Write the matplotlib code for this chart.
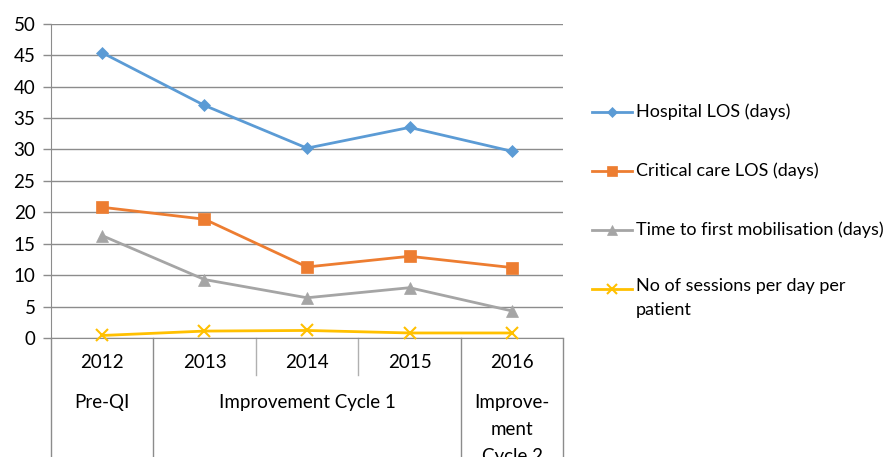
import matplotlib
matplotlib.use("Agg")
import matplotlib.pyplot as plt
import matplotlib.transforms as mtransforms
from matplotlib.lines import Line2D

# Data
years = ["2012", "2013", "2014", "2015", "2016"]
hospital_los = [45.4, 37.0, 30.2, 33.5, 29.7]
critical_los = [20.8, 18.9, 11.3, 13.0, 11.2]
first_mob = [16.3, 9.3, 6.4, 8.0, 4.3]
sessions = [0.4, 1.1, 1.2, 0.8, 0.8]

groups = ["Pre-QI", "Improvement Cycle 1", "Improve-\nment\nCycle 2"]
group_spans = [(0, 0), (1, 3), (4, 4)]

series_names = ["Hospital LOS (days)", "Critical care LOS (days)",
                "Time to first mobilisation (days)", "No of sessions per day per\npatient"]
colors = ["#5B9BD5", "#ED7D31", "#A5A5A5", "#FFC000"]
markers = ["D", "s", "^", "x"]
msizes = [6, 8, 8, 8]

plt.rcParams["font.family"] = ["Lato", "DejaVu Sans"]
plt.rcParams["font.size"] = 13

W, H = 887, 457
fig = plt.figure(figsize=(W / 100, H / 100), dpi=100)

# axes box in pixels
x0, x1 = 50.7, 563.3
y_top, y_bot = 23.7, 338.0
ax = fig.add_axes([x0 / W, (H - y_bot) / H, (x1 - x0) / W, (y_bot - y_top) / H])

grid_col = "#8C8C8C"
xs = list(range(len(years)))
all_series = [hospital_los, critical_los, first_mob, sessions]
for vals, c, m, ms in zip(all_series, colors, markers, msizes):
    ax.plot(xs, vals, color=c, lw=2.0, marker=m, markersize=ms,
            markeredgewidth=1.5 if m == "x" else 0.5, markeredgecolor=c, zorder=3,
            clip_on=False)

ax.set_xlim(-0.5, len(years) - 0.5)
ax.set_ylim(0, 50)
ax.set_yticks(range(0, 51, 5))
ax.yaxis.grid(True, color=grid_col, lw=1)
ax.set_axisbelow(True)
ax.set_xticks([])
for s in ["top", "right"]:
    ax.spines[s].set_visible(False)
ax.spines["left"].set_color(grid_col)
ax.spines["bottom"].set_color(grid_col)
ax.tick_params(axis="y", length=6, width=1, color=grid_col, pad=5, labelsize=13.5)

# multi-level category axis
axh = y_bot - y_top
trans = mtransforms.blended_transform_factory(ax.transData, ax.transAxes)
short = -(375 - y_bot) / axh
full = -(H - y_bot) / axh

for i, y in enumerate(years):
    ax.annotate(y, xy=(i, 0), xycoords=trans, xytext=(0, -25), textcoords="offset pixels",
                ha="center", va="center", fontsize=13.5)

bounds = set()
for a, b in group_spans:
    bounds.add(a - 0.5)
    bounds.add(b + 0.5)
for k in range(len(years) + 1):
    xb = k - 0.5
    if xb in bounds:
        ax.plot([xb, xb], [0, full], transform=trans, color=grid_col, lw=1, clip_on=False)
    else:
        ax.plot([xb, xb], [0, short], transform=trans, color="#B0B0B0", lw=1, clip_on=False)

for g, (a, b) in zip(groups, group_spans):
    ax.annotate(g, xy=((a + b) / 2, 0), xycoords=trans, xytext=(0, -56),
                textcoords="offset pixels", ha="center", va="top", fontsize=13.5,
                linespacing=1.7, annotation_clip=False)

# legend drawn beside the plot
leg_y = [112, 171, 230, 289]
for name, c, m, ms, yy in zip(series_names, colors, markers, msizes, leg_y):
    yf = (H - yy) / H
    fig.add_artist(Line2D([592 / W, 632 / W], [yf, yf], color=c, lw=2.0))
    fig.add_artist(Line2D([612 / W], [yf], color=c, marker=m, markersize=ms - 1,
                          markeredgewidth=1.5 if m == "x" else 0.5, markeredgecolor=c))
    if "\n" in name:
        fig.text(636 / W, yf + 11 / H, name, ha="left", va="top", fontsize=13, linespacing=1.6)
    else:
        fig.text(636 / W, yf, name, ha="left", va="center", fontsize=13)

fig.savefig("out.png", dpi=100)
